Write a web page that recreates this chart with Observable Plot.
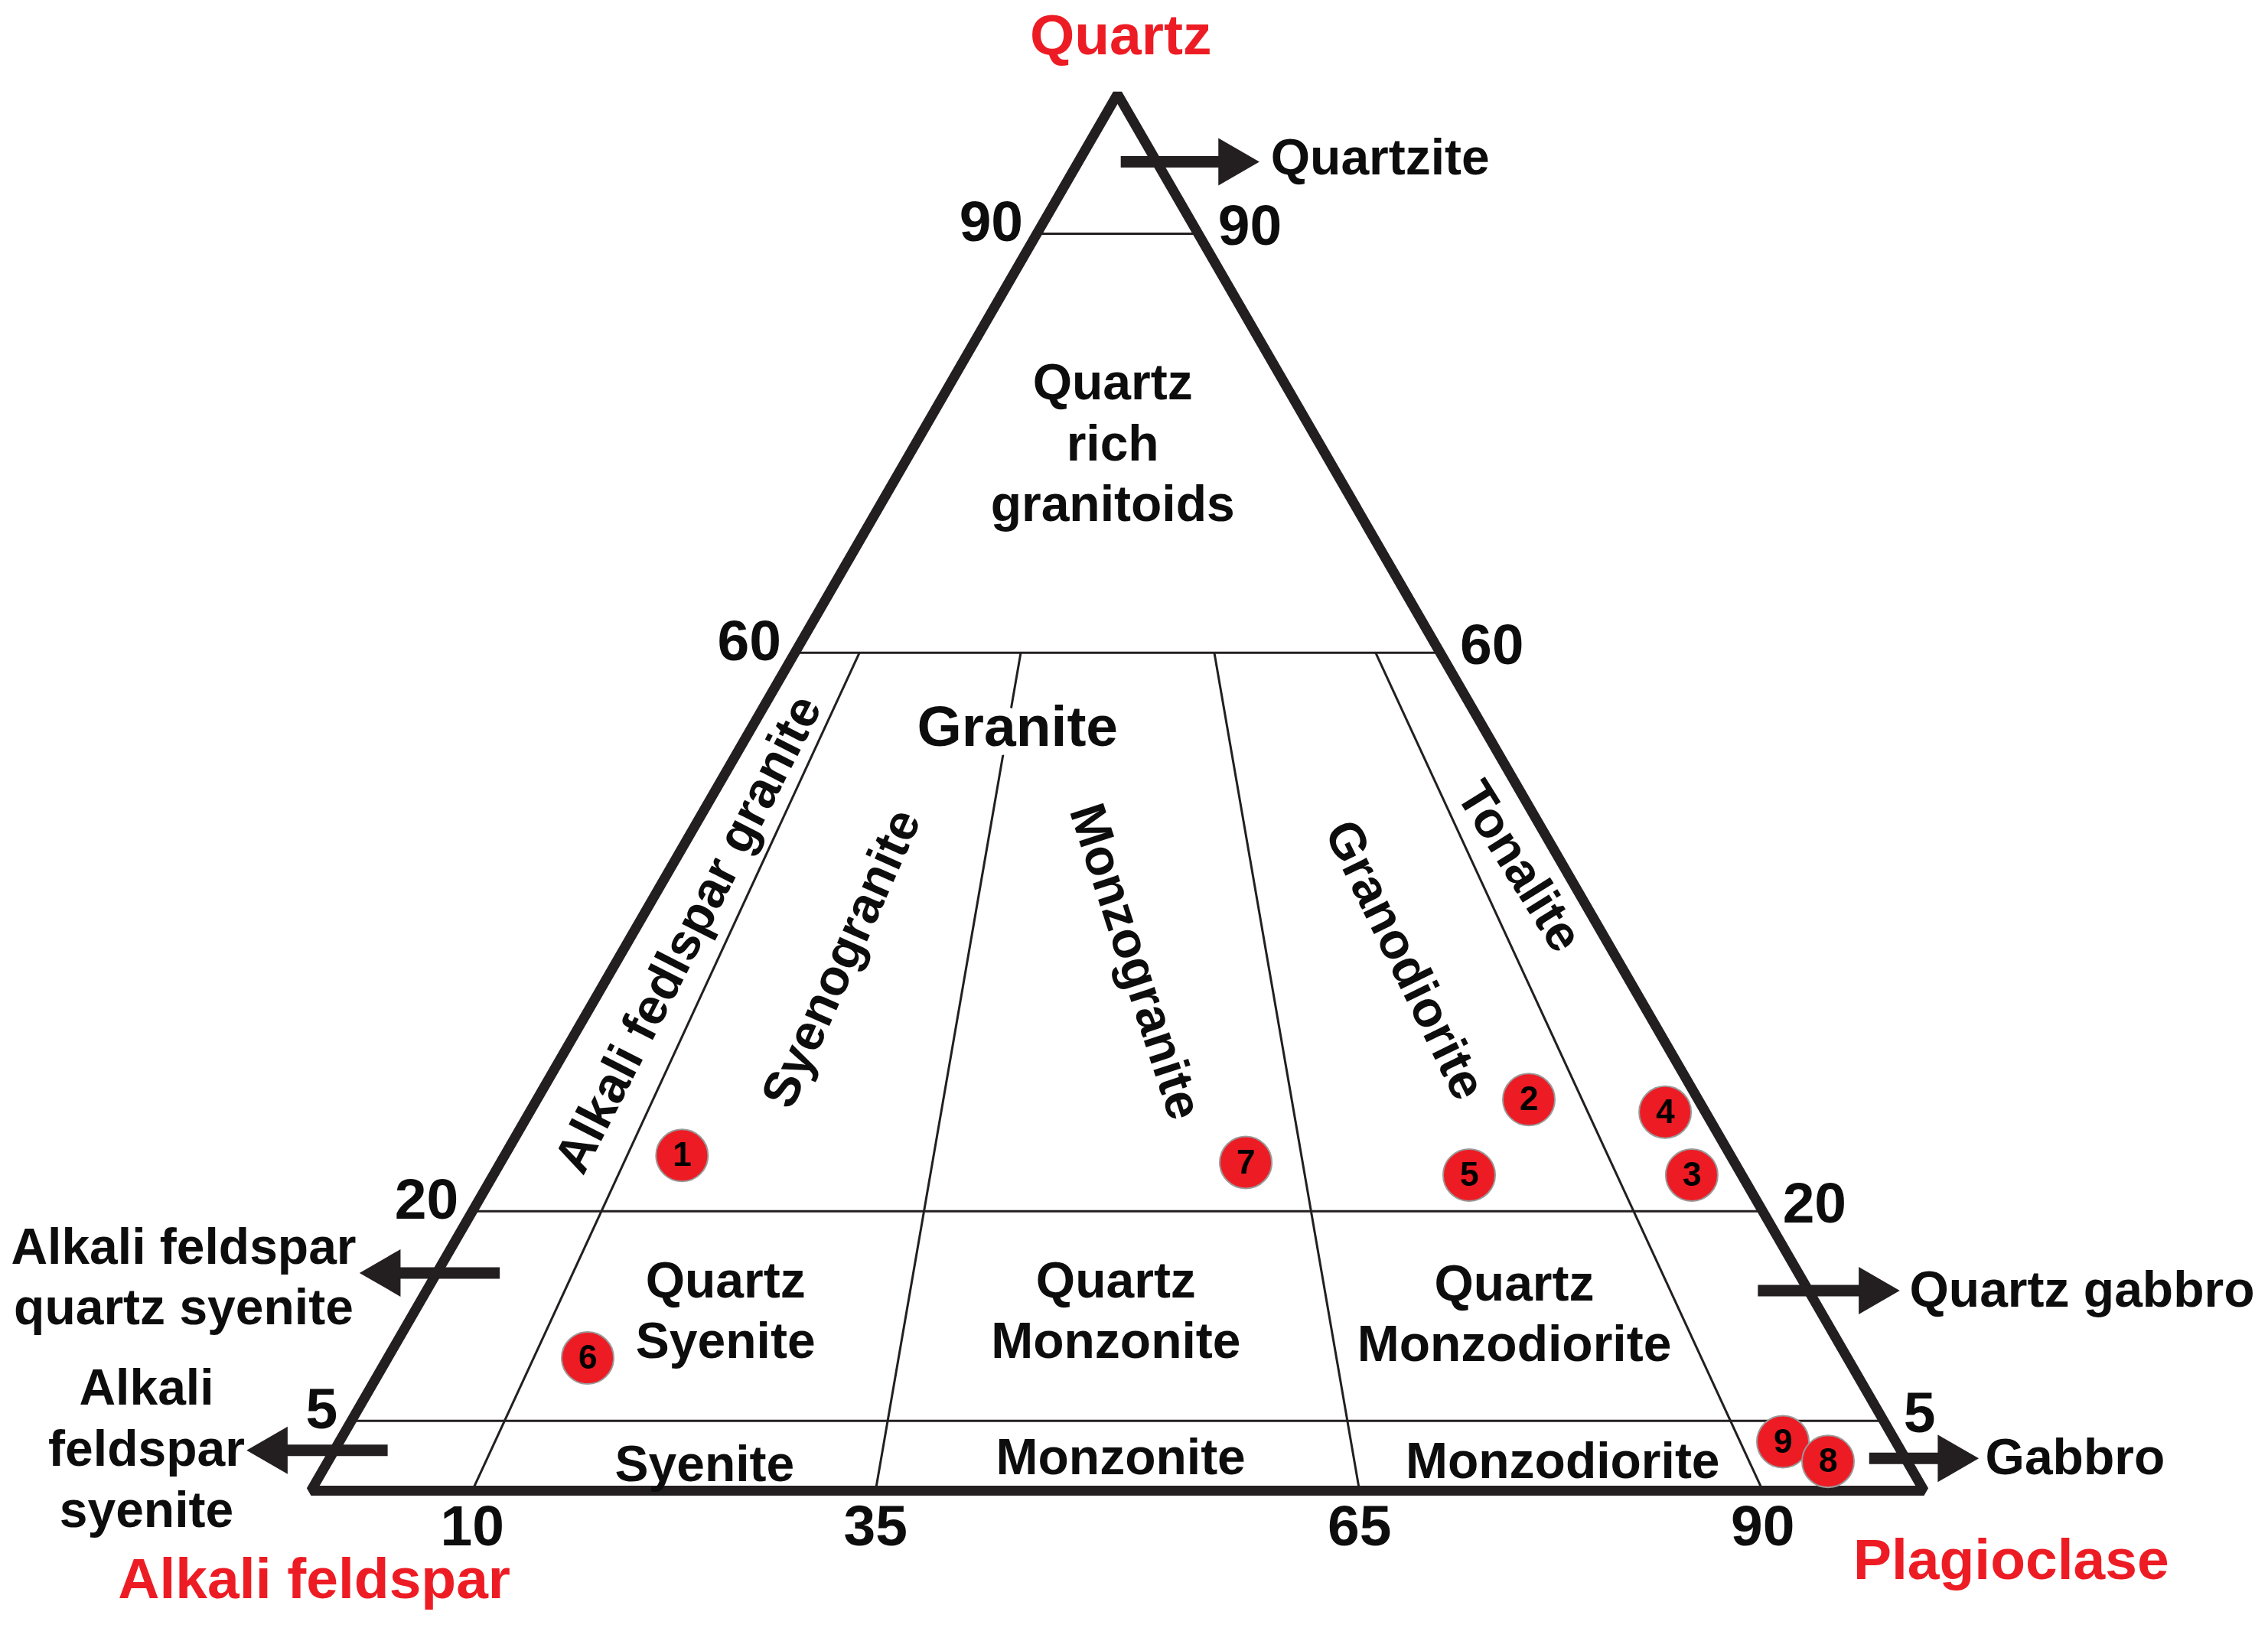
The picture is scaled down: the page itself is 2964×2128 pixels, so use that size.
<!DOCTYPE html>
<html><head><meta charset="utf-8">
<script src="https://cdn.jsdelivr.net/npm/d3@7"></script>
<script src="https://cdn.jsdelivr.net/npm/@observablehq/plot@0.6"></script>
<style>body{margin:0;background:#fff}</style>
</head><body><div id="chart"></div>
<script>
// ---- data ----
const corners = [{Q:0,A:100,P:0},{Q:0,A:0,P:100},{Q:100,A:0,P:0}];
const qLevels = [90, 60, 20, 5];               // horizontal Q boundaries
const qTickLabels = ["90", "60", "20", "5"];
const ratioLevels = [10, 35, 65, 90];          // P/(A+P) boundaries
const ratioTickLabels = ["10", "35", "65", "90"];
const sampleIds = ["1","2","3","4","5","6","7","9","8"];
const sampleQ   = [24, 28, 22.6, 27.1, 22.6, 9.5, 23.5, 3.5, 2.1];
const sampleA   = [65, 10.5, 3.1, 2.5, 16.9, 78.1, 30.3, 7.0, 4.9];
const sampleP   = [11, 61.5, 74.3, 70.4, 60.5, 12.4, 46.2, 89.5, 93.0];

// annotation layout (diagram frame units: base 0..100, apex height 86.6)
const fieldLabels = [
  {t:"Quartz\nrich\ngranitoids", x:49.7, y:65.1},
  {t:"Quartz\nSyenite", x:25.7, y:11.3},
  {t:"Quartz\nMonzonite", x:49.9, y:11.3},
  {t:"Quartz\nMonzodiorite", x:74.6, y:11.1},
  {t:"Syenite", x:24.4, y:1.8},
  {t:"Monzonite", x:50.2, y:2.2},
  {t:"Monzodiorite", x:77.6, y:2.0}
];
const rotLabels = [
  {t:"Alkali fedlspar granite", x:23.4, y:34.5, r:-63},
  {t:"Syenogranite", x:32.9, y:33.0, r:-66},
  {t:"Monzogranite", x:51.1, y:32.8, r:72},
  {t:"Granodiorite", x:67.8, y:32.9, r:64},
  {t:"Tonalite", x:74.9, y:38.7, r:58}
];
const rightLabels = [
  {t:"Quartzite", x:59.5, y:82.6},
  {t:"Quartz gabbro", x:99.1, y:12.4},
  {t:"Gabbro", x:103.8, y:2.0}
];
const leftLabels = [
  {t:"Alkali feldspar\nquartz syenite", x:-7.9, y:13.4},
  {t:"Alkali\nfeldspar\nsyenite", x:-10.2, y:2.75}
];
const endLabels = [
  {t:"Quartz", x:50.2, y:90.2},
  {t:"Alkali feldspar", x:0.2, y:-5.55},
  {t:"Plagioclase", x:105.4, y:-4.35}
];
const arrows = [
  {x1:50.2, x2:58.7, y:82.4},
  {x1:11.7, x2:3.1, y:13.5},
  {x1:4.75, x2:-3.9, y:2.5},
  {x1:89.7, x2:98.4, y:12.4},
  {x1:96.6, x2:103.3, y:2.0}
];

// ---- ternary projection ----
const S3 = Math.sqrt(3) / 2;
function tern(Q, A, P) { const s = Q + A + P; return {x: (P + Q / 2) / s * 100, y: Q / s * 100 * S3}; }

const outline = corners.map(c => tern(c.Q, c.A, c.P));
const hLines = qLevels.map(q => ({...tern(q, 100 - q, 0), x2: tern(q, 0, 100 - q).x, y2: tern(q, 0, 100 - q).y}));
const rLines = ratioLevels.map(r => {
  const top = tern(60, 40 * (100 - r) / 100, 40 * r / 100);
  const bot = tern(0, 100 - r, r);
  return {x: top.x, y: top.y, x2: bot.x, y2: bot.y};
});
const leftTicks = qLevels.map((q, i) => ({...tern(q, 100 - q, 0), t: qTickLabels[i]}));
const rightTicks = qLevels.map((q, i) => ({...tern(q, 0, 100 - q), t: qTickLabels[i]}));
const baseTicks = ratioLevels.map((r, i) => ({...tern(0, 100 - r, r), t: ratioTickLabels[i]}));
const samples = sampleIds.map((id, i) => ({id, ...tern(sampleQ[i], sampleA[i], sampleP[i])}));
const HEAD = 1.6;
const arrowHeads = arrows.map(a => { const d = Math.sign(a.x2 - a.x1); return {x: a.x2 - d * HEAD, y: a.y, x1: a.x1, rot: d > 0 ? 90 : -90}; });

const FONT = "'Liberation Sans', Arial, Helvetica, sans-serif";
const RED = "#ed1c24", INK = "#231f20", TXT = "#0d0d0d";

const chart = Plot.plot({
  width: 2964, height: 2128, margin: 0,
  x: {domain: [-19.26, 121.35], axis: null},
  y: {domain: [-8.54, 92.41], axis: null},
  style: {fontFamily: FONT, background: "#fff", overflow: "visible"},
  marks: [
    Plot.link(hLines, {x1: "x", y1: "y", x2: "x2", y2: "y2", stroke: INK, strokeWidth: 3}),
    Plot.link(rLines, {x1: "x", y1: "y", x2: "x2", y2: "y2", stroke: INK, strokeWidth: 3}),
    Plot.line(outline, {x: "x", y: "y", curve: "linear-closed", stroke: INK, strokeWidth: 13, strokeLinejoin: "miter"}),
    // arrows
    Plot.link(arrowHeads, {x1: "x1", x2: "x", y1: "y", y2: "y", stroke: INK, strokeWidth: 15, strokeLinecap: "butt"}),
    Plot.dot(arrowHeads, {x: "x", y: "y", symbol: "triangle", r: 23, rotate: "rot", fill: INK, stroke: "none"}),
    // field labels
    Plot.text(fieldLabels, {x: "x", y: "y", text: "t", fontSize: 66, fontWeight: "bold", fill: TXT, lineHeight: 1.2}),
    Plot.text(rotLabels, {x: "x", y: "y", text: "t", rotate: "r", fontSize: 66, fontWeight: "bold", fill: TXT}),
    Plot.text(["Granite"], {x: 43.8, y: 47.3, text: d => d, fontSize: 75, fontWeight: "bold", fill: TXT, stroke: "#fff", strokeWidth: 26}),
    Plot.text(rightLabels, {x: "x", y: "y", text: "t", textAnchor: "start", fontSize: 66, fontWeight: "bold", fill: TXT}),
    Plot.text(leftLabels, {x: "x", y: "y", text: "t", textAnchor: "middle", fontSize: 66, fontWeight: "bold", fill: TXT, lineHeight: 1.21}),
    Plot.text(endLabels, {x: "x", y: "y", text: "t", fontSize: 75, fontWeight: "bold", fill: RED}),
    // ticks
    Plot.text(leftTicks, {x: "x", y: "y", text: "t", textAnchor: "end", dx: -18, dy: -14, fontSize: 75, fontWeight: "bold", fill: TXT}),
    Plot.text(rightTicks, {x: "x", y: "y", text: "t", textAnchor: "start", dx: 26, dy: -9, fontSize: 75, fontWeight: "bold", fill: TXT}),
    Plot.text(baseTicks, {x: "x", y: "y", text: "t", dy: 48, fontSize: 75, fontWeight: "bold", fill: TXT}),
    // samples
    Plot.dot(samples, {x: "x", y: "y", r: 34, fill: RED, stroke: "#9a9a9a", strokeWidth: 2}),
    Plot.text(samples, {x: "x", y: "y", text: "id", fontSize: 44, fontWeight: "bold", fill: "#000"})
  ]
});
document.getElementById("chart").appendChild(chart);
</script>
</body></html>
